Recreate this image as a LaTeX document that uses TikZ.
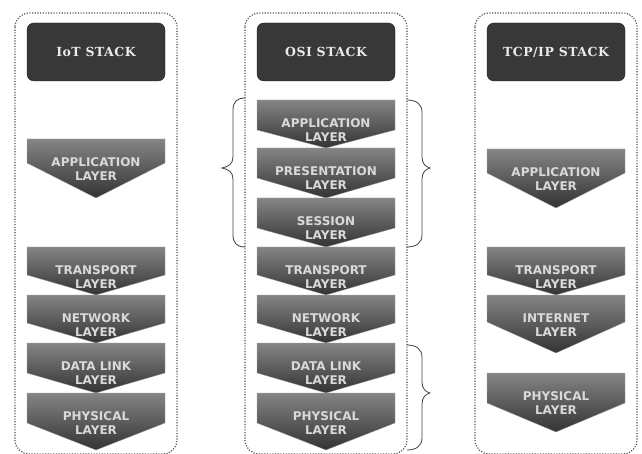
\documentclass[tikz,border=0pt]{standalone}
\usepackage{fontspec}
\newfontfamily\layerfont{DejaVu Sans}
\newfontfamily\headfont{DejaVu Serif}[LetterSpace=4]
\tikzset{
  container/.style={draw=black!70, line width=1.2pt, dash pattern=on 1.1pt off 1.6pt, rounded corners=14pt},
  header/.style={draw=black!90, fill=black!78, rounded corners=7pt, minimum width=138pt, minimum height=58pt,
                 inner sep=0pt, text=white!92!black, font=\headfont\bfseries\fontsize{12.5}{14}\selectfont},
  chev/.style={top color=black!48, bottom color=black!80, draw=black!35, line width=0.3pt},
  layertext/.style={align=center, inner sep=0pt, text=white!85!black,
                    font=\layerfont\bfseries\fontsize{12}{14}\selectfont},
  bracestyle/.style={draw=black!75, line width=0.8pt}
}
% #1 name, #2 left x, #3 top y, #4 side bottom y, #5 tip y, #6 text
\newcommand\layerchev[6]{%
  \path[chev] (#2,#3) -- (#2+138,#3) -- (#2+138,#4) -- (#2+69,#5) -- (#2,#4) -- cycle;
  \node[layertext] (#1) at (#2+69,#3+30) {#6};}
\begin{document}
\begin{tikzpicture}[x=1pt,y=-1pt]
\useasboundingbox (0,0) rectangle (642,454);
% containers
\draw[container] (15,13) rectangle (177,454);
\draw[container] (245,13) rectangle (407,454);
\draw[container] (475,13) rectangle (637,454);
% headers
\node[header] (iothead) at (96,52) {IoT STACK};
\node[header] (osihead) at (326,52) {OSI STACK};
\node[header] (tcphead) at (556,52) {TCP/IP STACK};
% IoT stack
\layerchev{iotapp}{27}{139}{163}{198}{APPLICATION\\LAYER}
\layerchev{iottrans}{27}{247}{275}{295}{TRANSPORT\\LAYER}
\layerchev{iotnet}{27}{295}{323}{343}{NETWORK\\LAYER}
\layerchev{iotdl}{27}{343}{373}{393}{DATA LINK\\LAYER}
\layerchev{iotphy}{27}{393}{423}{450}{PHYSICAL\\LAYER}
% OSI stack
\layerchev{osiapp}{257}{100}{130}{148}{APPLICATION\\LAYER}
\layerchev{osipres}{257}{148}{178}{198}{PRESENTATION\\LAYER}
\layerchev{osisess}{257}{198}{228}{247}{SESSION\\LAYER}
\layerchev{ositrans}{257}{247}{275}{295}{TRANSPORT\\LAYER}
\layerchev{osinet}{257}{295}{323}{343}{NETWORK\\LAYER}
\layerchev{osidl}{257}{343}{373}{393}{DATA LINK\\LAYER}
\layerchev{osiphy}{257}{393}{423}{450}{PHYSICAL\\LAYER}
% TCP/IP stack
\layerchev{tcpapp}{487}{149}{173}{208}{APPLICATION\\LAYER}
\layerchev{tcptrans}{487}{247}{275}{295}{TRANSPORT\\LAYER}
\layerchev{tcpint}{487}{295}{322}{353}{INTERNET\\LAYER}
\layerchev{tcpphy}{487}{373}{403}{432}{PHYSICAL\\LAYER}
% braces
\draw[bracestyle] (245,98) .. controls (237,98) and (233,102) .. (233,110) -- (233,157)
  .. controls (233,164) and (228,167) .. (222,168) .. controls (228,169) and (233,172) .. (233,179)
  -- (233,235) .. controls (233,243) and (237,247) .. (245,247);
\draw[bracestyle] (407,100) .. controls (416,100) and (422,104) .. (422,112) -- (422,157)
  .. controls (422,164) and (426,167) .. (430,168) .. controls (426,169) and (422,172) .. (422,179)
  -- (422,235) .. controls (422,243) and (416,247) .. (407,247);
\draw[bracestyle] (407,345) .. controls (416,345) and (422,349) .. (422,357) -- (422,382)
  .. controls (422,389) and (426,392) .. (430,393) .. controls (426,394) and (422,397) .. (422,404)
  -- (422,438) .. controls (422,446) and (416,450) .. (407,450);
\end{tikzpicture}
\end{document}
